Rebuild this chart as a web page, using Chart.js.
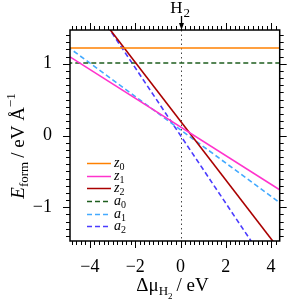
<!DOCTYPE html>
<html><head><meta charset="utf-8">
<script src="https://cdn.jsdelivr.net/npm/chart.js@4"></script>
<style>html,body{margin:0;padding:0;background:#fff}</style>
</head><body>
<canvas id="c" width="291" height="307"></canvas>
<script>
// ---- data ----
const xEnds = [-5, 5];                 // x positions of the line end points (eV)
const z0 = [1.22, 1.22];
const z1 = [1.12, -0.88];
const z2 = [2.25, -1.85];
const a0 = [1.01, 1.01];
const a1 = [1.24, -1.08];
const a2 = [2.36, -2.36];
const seriesNames = ['z0', 'z1', 'z2', 'a0', 'a1', 'a2'];
const xTickLabels = [-4, -2, 0, 2, 4];
const yTickLabels = [-1, 0, 1];
const xRange = [-4.88, 4.38];
const yRange = [-1.47, 1.47];
const markerX = 0;         // H2 reference chemical potential

// ---- styles ----
const colors = ['#ff8000', '#ff33cc', '#aa0000', '#1e5e1e', '#44aaff', '#4b3cff'];
const dashes = [[], [], [], [5, 3], [5, 3], [5, 3]];
const serif = '"Liberation Serif", "DejaVu Serif", serif';
const seriesValues = [z0, z1, z2, a0, a1, a2];

const fmt = v => (v < 0 ? '\u2212' + Math.abs(v) : String(v));

const datasets = seriesNames.map((n, i) => ({
  label: n,
  data: xEnds.map((x, k) => ({ x: x, y: seriesValues[i][k] })),
  borderColor: colors[i],
  backgroundColor: colors[i],
  borderDash: dashes[i],
  borderWidth: 1.6,
  pointRadius: 0,
  fill: false,
  tension: 0
}));

function drawPieces(ctx, pieces, x, y, align) {
  let total = 0;
  pieces.forEach(p => { ctx.font = p.font; p.w = ctx.measureText(p.t).width; total += p.w + (p.gap || 0); });
  let cx = align === 'center' ? x - total / 2 : x;
  ctx.textBaseline = 'alphabetic';
  ctx.textAlign = 'left';
  pieces.forEach(p => {
    ctx.font = p.font;
    ctx.fillText(p.t, cx, y + (p.dy || 0));
    cx += p.w + (p.gap || 0);
  });
}

const decor = {
  id: 'decor',
  beforeDatasetsDraw(chart) {
    const { ctx, chartArea: a, scales: { x } } = chart;
    const px = x.getPixelForValue(markerX);
    ctx.save();
    ctx.strokeStyle = '#444';
    ctx.lineWidth = 1;
    ctx.setLineDash([1.5, 3]);
    ctx.beginPath();
    ctx.moveTo(Math.round(px) + 0.5, a.top);
    ctx.lineTo(Math.round(px) + 0.5, a.bottom);
    ctx.stroke();
    ctx.restore();
  },
  afterDraw(chart) {
    const { ctx, chartArea: a, scales: { x, y } } = chart;
    ctx.save();
    ctx.fillStyle = '#000';
    ctx.strokeStyle = '#000';
    // frame
    ctx.lineWidth = 1.5;
    ctx.strokeRect(a.left, a.top, a.right - a.left, a.bottom - a.top);
    // ticks
    ctx.lineWidth = 1;
    const maj = 7, min = 4;
    ctx.beginPath();
    for (let k = Math.ceil(xRange[0] / 0.2); k * 0.2 <= xRange[1] + 1e-9; k++) {
      const v = k * 0.2;
      const isMaj = xTickLabels.some(t => Math.abs(t - v) < 1e-6);
      const L = isMaj ? maj : min;
      const p = Math.round(x.getPixelForValue(v)) + 0.5;
      ctx.moveTo(p, a.bottom); ctx.lineTo(p, a.bottom + L);
      ctx.moveTo(p, a.top); ctx.lineTo(p, a.top - L);
    }
    for (let k = Math.ceil(yRange[0] / 0.1); k * 0.1 <= yRange[1] + 1e-9; k++) {
      const v = k * 0.1;
      const isMaj = yTickLabels.some(t => Math.abs(t - v) < 1e-6);
      const L = isMaj ? maj : min;
      const p = Math.round(y.getPixelForValue(v)) + 0.5;
      ctx.moveTo(a.left, p); ctx.lineTo(a.left - L, p);
      ctx.moveTo(a.right, p); ctx.lineTo(a.right + L, p);
    }
    ctx.stroke();

    // H2 arrow at top
    const px = Math.round(x.getPixelForValue(markerX)) + 0.5;
    ctx.lineWidth = 1.3;
    ctx.beginPath(); ctx.moveTo(px, 16); ctx.lineTo(px, a.top - 5); ctx.stroke();
    ctx.beginPath(); ctx.moveTo(px - 2.5, a.top - 7); ctx.lineTo(px + 2.5, a.top - 7); ctx.lineTo(px, a.top); ctx.closePath(); ctx.fill();
    ctx.font = '17px ' + serif;
    ctx.textBaseline = 'alphabetic';
    ctx.textAlign = 'right';
    ctx.fillText('H', px + 1, 13);
    ctx.textAlign = 'left';
    ctx.font = '13px ' + serif;
    ctx.fillText('2', px + 2, 17);

    // x title
    drawPieces(ctx, [
      { t: '\u0394\u03bc', font: '19px ' + serif },
      { t: 'H', font: '13px ' + serif, dy: 4 },
      { t: '2', font: '9px ' + serif, dy: 8, gap: 4 },
      { t: '/ eV', font: '19px ' + serif }
    ], 172.5, 291, 'center');

    // y title (rotated)
    ctx.save();
    ctx.translate(24, 146);
    ctx.rotate(-Math.PI / 2);
    drawPieces(ctx, [
      { t: 'E', font: 'italic 19px ' + serif },
      { t: 'form', font: '13px ' + serif, dy: 4, gap: 4 },
      { t: '/ eV \u00c5', font: '19px ' + serif },
      { t: '\u22121', font: '13px ' + serif, dy: -9 }
    ], 0, 0, 'center');
    ctx.restore();

    // legend
    const lx0 = 87, lx1 = 111, tx = 114, ly0 = 163, dyRow = 12.65;
    chart.data.datasets.forEach((ds, i) => {
      const yy = Math.round(ly0 + i * dyRow) + 0.5;
      ctx.strokeStyle = ds.borderColor;
      ctx.lineWidth = 1.5;
      ctx.setLineDash(ds.borderDash || []);
      ctx.beginPath(); ctx.moveTo(lx0, yy); ctx.lineTo(lx1, yy); ctx.stroke();
      ctx.setLineDash([]);
      ctx.fillStyle = '#000';
      const name = ds.label;
      drawPieces(ctx, [
        { t: name.charAt(0), font: 'italic 14px ' + serif },
        { t: name.slice(1), font: '10px ' + serif, dy: 3 }
      ], tx, yy + 3.5, 'left');
    });
    ctx.restore();
  }
};

new Chart(document.getElementById('c'), {
  type: 'line',
  data: { datasets },
  options: {
    responsive: false,
    animation: false,
    devicePixelRatio: 1,
    layout: { padding: { top: 30, right: 10, left: 0, bottom: 0 } },
    plugins: { legend: { display: false }, tooltip: { enabled: false } },
    scales: {
      x: {
        type: 'linear', position: 'bottom',
        min: xRange[0], max: xRange[1],
        afterBuildTicks: s => { s.ticks = xTickLabels.map(v => ({ value: v })); },
        afterFit: s => { s.height = 66; },
        grid: { display: false, drawTicks: false },
        border: { display: false },
        ticks: { padding: 15, color: '#000', font: { family: serif, size: 18 }, maxRotation: 0, autoSkip: false, callback: v => fmt(v) }
      },
      y: {
        type: 'linear', position: 'left',
        min: yRange[0], max: yRange[1],
        afterBuildTicks: s => { s.ticks = yTickLabels.map(v => ({ value: v })); },
        afterFit: s => { s.width = 70; },
        grid: { display: false, drawTicks: false },
        border: { display: false },
        ticks: { padding: 18, color: '#000', font: { family: serif, size: 18 }, autoSkip: false, callback: v => fmt(v) }
      }
    }
  },
  plugins: [decor]
});
</script>
</body></html>
